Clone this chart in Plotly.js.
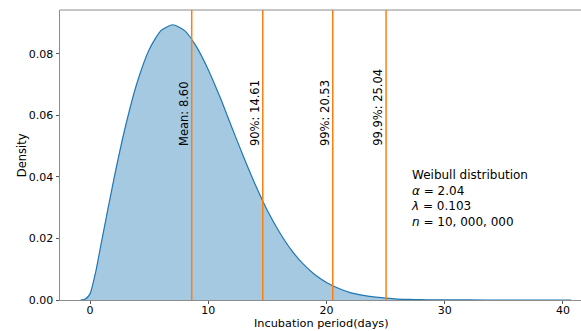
<!DOCTYPE html>
<html>
<head>
<meta charset="utf-8">
<script src="https://cdn.plot.ly/plotly-3.0.1.min.js"></script>
<style>html,body{margin:0;padding:0;background:#fff;overflow:hidden;}#chart{width:586px;height:331px;}</style>
</head>
<body>
<div id="chart"></div>
<script>
// Incubation period (days) and estimated density
const days = [-0.8, -0.4, 0, 0.5, 1, 2, 3, 4, 5, 6, 7, 8, 9, 10, 11, 12, 13, 14, 15, 16, 17, 18, 19, 20, 21, 22, 23, 24, 25, 26, 27, 28, 29, 30, 32, 35, 38, 40.7];
const density = [0, 0.0003, 0.002, 0.0095, 0.0195, 0.039, 0.0565, 0.0709, 0.0814, 0.0876, 0.0895, 0.0876, 0.0824, 0.0749, 0.0659, 0.0561, 0.0464, 0.0373, 0.0291, 0.0222, 0.0164, 0.0118, 0.0083, 0.0057, 0.0038, 0.0024, 0.0016, 0.0010, 0.0006, 0.0003, 0.0002, 0.0001, 0.00005, 0.00003, 0.00001, 0, 0, 0];
const markerX = [8.60, 14.61, 20.53, 25.04];
const markerLabels = ["Mean: 8.60", "90%: 14.61", "99%: 20.53", "99.9%: 25.04"];
const xTicks = [0, 10, 20, 30, 40];
const yTicks = [0, 0.02, 0.04, 0.06, 0.08];
const yTickText = ["0.00", "0.02", "0.04", "0.06", "0.08"];
const infoLines = ["Weibull distribution", "<i>α</i> = 2.04", "<i>λ</i> = 0.103", "<i>n</i> = 10, 000, 000"];

const font = "DejaVu Sans, sans-serif";
const trace = {
  x: days, y: density, type: "scatter", mode: "lines",
  line: {color: "#1f77b4", width: 1.2, shape: "spline", smoothing: 0.6},
  fill: "tozeroy", fillcolor: "rgba(31,119,180,0.4)",
  hoverinfo: "skip", showlegend: false
};
const shapes = markerX.map(x => ({
  type: "line", xref: "x", yref: "paper", x0: x, x1: x, y0: 0, y1: 1,
  line: {color: "#ff7f0e", width: 1.5}, layer: "above"
}));
// top spine only (the right spine lies outside the picture)
shapes.push({type: "line", xref: "paper", yref: "paper", x0: 0, x1: 1, y0: 1, y1: 1,
  line: {color: "#8c8c8c", width: 1}, layer: "above"});
const annotations = markerX.map((x, i) => ({
  x: x, y: 0.0495, xref: "x", yref: "y", text: markerLabels[i],
  textangle: -90, xanchor: "right", yanchor: "bottom", xshift: 1.5,
  showarrow: false, font: {family: font, size: 11.5, color: "#000"}
}));
annotations.push({
  x: 26.95, y: 0.0437, xref: "x", yref: "y", xanchor: "left", yanchor: "top",
  align: "left", showarrow: false, text: infoLines.join("<br>"),
  font: {family: font, size: 12, color: "#000"}
});
// axis titles
annotations.push({
  x: 19.6, y: -0.081, xref: "x", yref: "paper", xanchor: "center", yanchor: "middle",
  text: "Incubation period(days)", showarrow: false, borderpad: 0,
  font: {family: font, size: 11.3, color: "#000"}
});
annotations.push({
  x: -0.072, y: 0.5, xref: "paper", yref: "paper", xanchor: "center", yanchor: "middle",
  text: "Density", textangle: -90, showarrow: false, font: {family: font, size: 11.5, color: "#000"}
});
const layout = {
  width: 586, height: 331,
  margin: {l: 60, r: 0, t: 10, b: 31, pad: 0},
  paper_bgcolor: "#fff", plot_bgcolor: "#fff",
  font: {family: font, size: 11.5, color: "#000"},
  xaxis: {
    range: [-2.54, 41.95], tickvals: xTicks, ticktext: xTicks.map(String),
    showgrid: false, zeroline: false, showline: true, mirror: false,
    linecolor: "#8c8c8c", linewidth: 1, ticks: "outside", ticklen: 3, tickcolor: "#555",
    ticklabelstandoff: -3,
    tickfont: {family: font, size: 11, color: "#000"},
    automargin: false
  },
  yaxis: {
    range: [0, 0.0943], tickvals: yTicks, ticktext: yTickText,
    showgrid: false, zeroline: false, showline: true, mirror: false,
    linecolor: "#8c8c8c", linewidth: 1, ticks: "outside", ticklen: 3.5, tickcolor: "#555",
    tickfont: {family: font, size: 11, color: "#000"},
    automargin: false
  },
  shapes: shapes,
  annotations: annotations
};
Plotly.newPlot("chart", [trace], layout, {displayModeBar: false, staticPlot: true});
</script>
</body>
</html>
